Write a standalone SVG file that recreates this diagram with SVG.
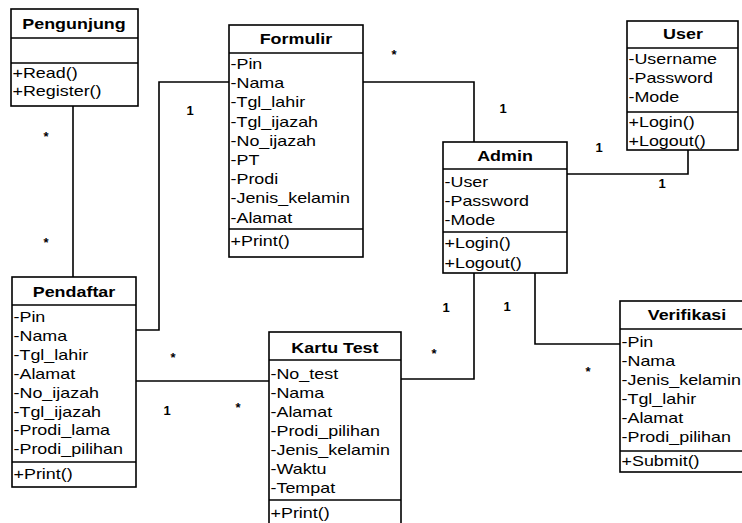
<svg xmlns="http://www.w3.org/2000/svg" width="742" height="523" viewBox="0 0 742 523">
<style>
text { font-family: "Liberation Sans", Arial, sans-serif; font-size: 14px; fill: #000; transform-box: fill-box; transform-origin: 0 50%; transform: scaleX(1.28); }
.t { font-weight: bold; text-anchor: middle; transform-origin: 50% 50%; }
.m { font-weight: bold; font-size: 13px; text-anchor: middle; transform: none; }
.box { fill: #fff; stroke: #000; stroke-width: 1.6; }
.sep { stroke: #000; stroke-width: 1.6; }
.c { fill: none; stroke: #000; stroke-width: 1.6; }
</style>
<rect width="742" height="523" fill="#fff"/>
<g id="connectors">
<path class="c" d="M73 106 V277"/>
<path class="c" d="M136 330 H159 V82 H229"/>
<path class="c" d="M363 82 H474 V142"/>
<path class="c" d="M688 150 V174 H567"/>
<path class="c" d="M136 381 H269"/>
<path class="c" d="M401 379 H474 V273"/>
<path class="c" d="M535 273 V344 H620"/>
</g>
<g id="labels">
<text class="m" x="394" y="59">*</text>
<text class="m" x="190" y="115">1</text>
<text class="m" x="503" y="113">1</text>
<text class="m" x="599" y="152">1</text>
<text class="m" x="662" y="188">1</text>
<text class="m" x="46" y="141">*</text>
<text class="m" x="46" y="247">*</text>
<text class="m" x="173" y="362">*</text>
<text class="m" x="167" y="415">1</text>
<text class="m" x="238" y="412">*</text>
<text class="m" x="434" y="358">*</text>
<text class="m" x="446" y="312">1</text>
<text class="m" x="507" y="311">1</text>
<text class="m" x="588" y="376">*</text>
</g>
<g id="pengunjung">
<rect class="box" x="11" y="9" width="127" height="97"/>
<line class="sep" x1="11" y1="38" x2="138" y2="38"/>
<line class="sep" x1="11" y1="63" x2="138" y2="63"/>
<text class="t" x="74" y="29">Pengunjung</text>
<text x="12.5" y="78">+Read()</text>
<text x="12.5" y="96">+Register()</text>
</g>
<g id="formulir">
<rect class="box" x="229" y="25" width="134" height="232"/>
<line class="sep" x1="229" y1="53" x2="363" y2="53"/>
<line class="sep" x1="229" y1="229" x2="363" y2="229"/>
<text class="t" x="296" y="44">Formulir</text>
<text x="230.5" y="69">-Pin</text>
<text x="230.5" y="88">-Nama</text>
<text x="230.5" y="107">-Tgl_lahir</text>
<text x="230.5" y="127">-Tgl_ijazah</text>
<text x="230.5" y="146">-No_ijazah</text>
<text x="230.5" y="165">-PT</text>
<text x="230.5" y="184">-Prodi</text>
<text x="230.5" y="203">-Jenis_kelamin</text>
<text x="230.5" y="223">-Alamat</text>
<text x="230.5" y="246">+Print()</text>
</g>
<g id="user">
<rect class="box" x="627" y="21" width="111" height="129"/>
<line class="sep" x1="627" y1="48" x2="738" y2="48"/>
<line class="sep" x1="627" y1="112" x2="738" y2="112"/>
<text class="t" x="683" y="39">User</text>
<text x="628.5" y="64">-Username</text>
<text x="628.5" y="83">-Password</text>
<text x="628.5" y="102">-Mode</text>
<text x="628.5" y="127">+Login()</text>
<text x="628.5" y="146">+Logout()</text>
</g>
<g id="admin">
<rect class="box" x="443" y="142" width="124" height="131"/>
<line class="sep" x1="443" y1="169" x2="567" y2="169"/>
<line class="sep" x1="443" y1="232" x2="567" y2="232"/>
<text class="t" x="505" y="161">Admin</text>
<text x="444.5" y="187">-User</text>
<text x="444.5" y="206">-Password</text>
<text x="444.5" y="225">-Mode</text>
<text x="444.5" y="248">+Login()</text>
<text x="444.5" y="268">+Logout()</text>
</g>
<g id="pendaftar">
<rect class="box" x="12" y="277" width="124" height="210"/>
<line class="sep" x1="12" y1="305" x2="136" y2="305"/>
<line class="sep" x1="12" y1="462" x2="136" y2="462"/>
<text class="t" x="74" y="297">Pendaftar</text>
<text x="13.5" y="322">-Pin</text>
<text x="13.5" y="341">-Nama</text>
<text x="13.5" y="360">-Tgl_lahir</text>
<text x="13.5" y="379">-Alamat</text>
<text x="13.5" y="398">-No_ijazah</text>
<text x="13.5" y="417">-Tgl_ijazah</text>
<text x="13.5" y="435">-Prodi_lama</text>
<text x="13.5" y="454">-Prodi_pilihan</text>
<text x="13.5" y="479">+Print()</text>
</g>
<g id="kartu-test">
<rect class="box" x="269" y="332" width="132" height="193"/>
<line class="sep" x1="269" y1="360" x2="401" y2="360"/>
<line class="sep" x1="269" y1="500" x2="401" y2="500"/>
<text class="t" x="335" y="353">Kartu Test</text>
<text x="270.5" y="379">-No_test</text>
<text x="270.5" y="398">-Nama</text>
<text x="270.5" y="417">-Alamat</text>
<text x="270.5" y="436">-Prodi_pilihan</text>
<text x="270.5" y="455">-Jenis_kelamin</text>
<text x="270.5" y="474">-Waktu</text>
<text x="270.5" y="493">-Tempat</text>
<text x="270.5" y="518">+Print()</text>
</g>
<g id="verifikasi">
<rect class="box" x="620" y="301" width="134" height="171"/>
<line class="sep" x1="620" y1="329" x2="754" y2="329"/>
<line class="sep" x1="620" y1="451" x2="754" y2="451"/>
<text class="t" x="687" y="320">Verifikasi</text>
<text x="621.5" y="347">-Pin</text>
<text x="621.5" y="366">-Nama</text>
<text x="621.5" y="385">-Jenis_kelamin</text>
<text x="621.5" y="404">-Tgl_lahir</text>
<text x="621.5" y="423">-Alamat</text>
<text x="621.5" y="442">-Prodi_pilihan</text>
<text x="621.5" y="466">+Submit()</text>
</g>
</svg>
